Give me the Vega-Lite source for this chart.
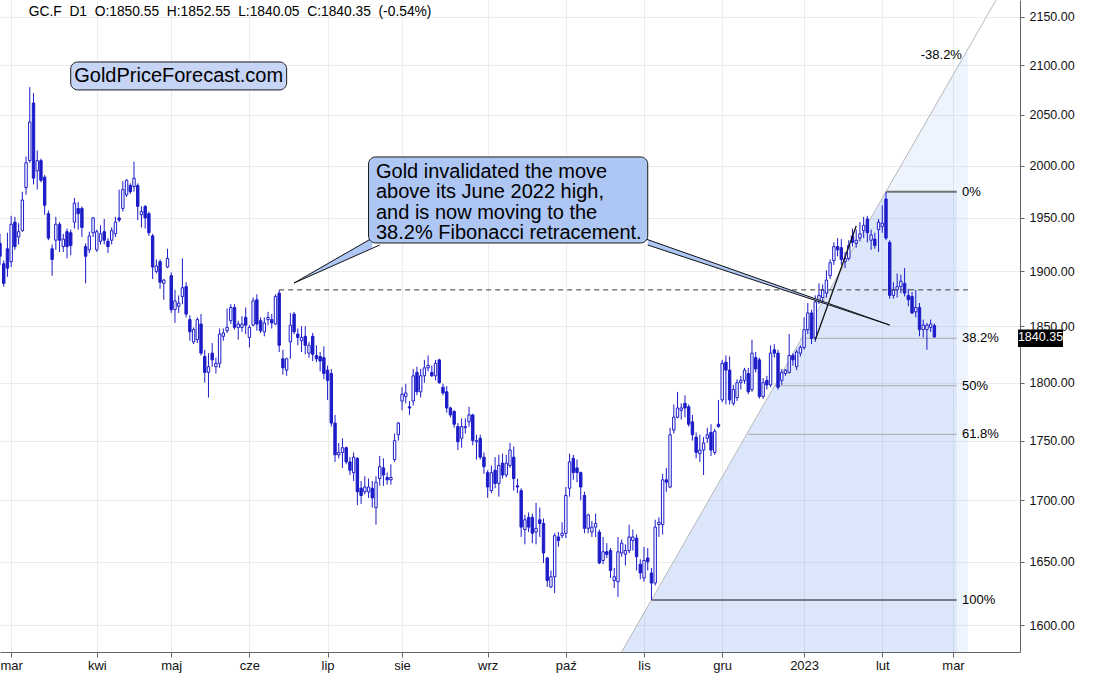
{
"$schema":"https://vega.github.io/schema/vega-lite/v6.json",
"width":1020,"height":652,
"autosize":{"type":"none"},
"padding":{"left":0,"top":0,"right":85,"bottom":30},
"background":"white",
"datasets":{
"candles":[
{"d":"2022-02-24","o":1926,"h":1935,"l":1906,"c":1914},
{"d":"2022-02-25","o":1907,"h":1910,"l":1886,"c":1889},
{"d":"2022-02-28","o":1921,"h":1936,"l":1895,"c":1903},
{"d":"2022-03-01","o":1909,"h":1952,"l":1904,"c":1944},
{"d":"2022-03-02","o":1946,"h":1951,"l":1920,"c":1923},
{"d":"2022-03-03","o":1932,"h":1945,"l":1925,"c":1937},
{"d":"2022-03-04","o":1938,"h":1975,"l":1937,"c":1967},
{"d":"2022-03-07","o":1979,"h":2009,"l":1972,"c":2003},
{"d":"2022-03-08","o":2005,"h":2078,"l":2003,"c":2043},
{"d":"2022-03-09","o":2062,"h":2072,"l":1982,"c":1988},
{"d":"2022-03-10","o":1995,"h":2015,"l":1977,"c":2005},
{"d":"2022-03-11","o":2005,"h":2007,"l":1984,"c":1986},
{"d":"2022-03-14","o":1989,"h":1991,"l":1953,"c":1962},
{"d":"2022-03-15","o":1954,"h":1957,"l":1929,"c":1931},
{"d":"2022-03-16","o":1921,"h":1925,"l":1896,"c":1911},
{"d":"2022-03-17","o":1929,"h":1951,"l":1920,"c":1944},
{"d":"2022-03-18","o":1944,"h":1946,"l":1918,"c":1929},
{"d":"2022-03-21","o":1923,"h":1935,"l":1918,"c":1930},
{"d":"2022-03-22","o":1937,"h":1940,"l":1912,"c":1923},
{"d":"2022-03-23","o":1936,"h":1939,"l":1915,"c":1924},
{"d":"2022-03-24","o":1946,"h":1969,"l":1940,"c":1964},
{"d":"2022-03-25","o":1959,"h":1965,"l":1939,"c":1954},
{"d":"2022-03-28","o":1959,"h":1961,"l":1932,"c":1941},
{"d":"2022-03-29","o":1923,"h":1926,"l":1889,"c":1914},
{"d":"2022-03-30","o":1920,"h":1937,"l":1917,"c":1933},
{"d":"2022-03-31","o":1936,"h":1951,"l":1932,"c":1950},
{"d":"2022-04-01","o":1920,"h":1939,"l":1918,"c":1937},
{"d":"2022-04-04","o":1928,"h":1943,"l":1925,"c":1935},
{"d":"2022-04-05","o":1937,"h":1949,"l":1925,"c":1929},
{"d":"2022-04-06","o":1928,"h":1931,"l":1917,"c":1923},
{"d":"2022-04-07","o":1929,"h":1941,"l":1925,"c":1938},
{"d":"2022-04-08","o":1935,"h":1951,"l":1932,"c":1946},
{"d":"2022-04-11","o":1950,"h":1977,"l":1946,"c":1948},
{"d":"2022-04-12","o":1959,"h":1985,"l":1956,"c":1977},
{"d":"2022-04-13","o":1972,"h":1987,"l":1970,"c":1986},
{"d":"2022-04-14","o":1981,"h":1983,"l":1973,"c":1975},
{"d":"2022-04-18","o":1980,"h":2004,"l":1975,"c":1988},
{"d":"2022-04-19","o":1981,"h":1983,"l":1948,"c":1961},
{"d":"2022-04-20","o":1953,"h":1961,"l":1941,"c":1956},
{"d":"2022-04-21","o":1961,"h":1962,"l":1940,"c":1950},
{"d":"2022-04-22","o":1954,"h":1956,"l":1933,"c":1936},
{"d":"2022-04-25","o":1933,"h":1935,"l":1893,"c":1904},
{"d":"2022-04-26","o":1900,"h":1911,"l":1898,"c":1905},
{"d":"2022-04-27","o":1909,"h":1911,"l":1884,"c":1890},
{"d":"2022-04-28","o":1889,"h":1893,"l":1874,"c":1892},
{"d":"2022-04-29","o":1904,"h":1921,"l":1903,"c":1912},
{"d":"2022-05-02","o":1896,"h":1899,"l":1862,"c":1865},
{"d":"2022-05-03","o":1865,"h":1883,"l":1853,"c":1873},
{"d":"2022-05-04","o":1868,"h":1878,"l":1862,"c":1871},
{"d":"2022-05-05","o":1877,"h":1912,"l":1870,"c":1885},
{"d":"2022-05-06","o":1886,"h":1890,"l":1858,"c":1861},
{"d":"2022-05-09","o":1856,"h":1860,"l":1837,"c":1845},
{"d":"2022-05-10","o":1836,"h":1849,"l":1834,"c":1847},
{"d":"2022-05-11","o":1838,"h":1858,"l":1835,"c":1856},
{"d":"2022-05-12","o":1852,"h":1861,"l":1824,"c":1826},
{"d":"2022-05-13","o":1823,"h":1829,"l":1800,"c":1809},
{"d":"2022-05-16","o":1809,"h":1826,"l":1787,"c":1814},
{"d":"2022-05-17","o":1826,"h":1835,"l":1814,"c":1820},
{"d":"2022-05-18","o":1814,"h":1822,"l":1808,"c":1817},
{"d":"2022-05-19","o":1817,"h":1848,"l":1813,"c":1843},
{"d":"2022-05-20","o":1841,"h":1848,"l":1837,"c":1844},
{"d":"2022-05-23","o":1846,"h":1866,"l":1844,"c":1849},
{"d":"2022-05-24","o":1855,"h":1870,"l":1852,"c":1867},
{"d":"2022-05-25","o":1867,"h":1870,"l":1847,"c":1849},
{"d":"2022-05-26","o":1849,"h":1855,"l":1838,"c":1852},
{"d":"2022-05-27","o":1849,"h":1859,"l":1845,"c":1852},
{"d":"2022-05-31","o":1858,"h":1867,"l":1843,"c":1851},
{"d":"2022-06-01","o":1840,"h":1851,"l":1831,"c":1849},
{"d":"2022-06-02","o":1851,"h":1876,"l":1850,"c":1873},
{"d":"2022-06-03","o":1874,"h":1879,"l":1846,"c":1852},
{"d":"2022-06-06","o":1855,"h":1858,"l":1844,"c":1846},
{"d":"2022-06-07","o":1845,"h":1858,"l":1841,"c":1853},
{"d":"2022-06-08","o":1856,"h":1863,"l":1851,"c":1858},
{"d":"2022-06-09","o":1856,"h":1861,"l":1848,"c":1853},
{"d":"2022-06-10","o":1852,"h":1879,"l":1851,"c":1877},
{"d":"2022-06-13","o":1880,"h":1883,"l":1827,"c":1833},
{"d":"2022-06-14","o":1821,"h":1829,"l":1807,"c":1813},
{"d":"2022-06-15","o":1811,"h":1822,"l":1806,"c":1821},
{"d":"2022-06-16","o":1836,"h":1862,"l":1821,"c":1851},
{"d":"2022-06-17","o":1861,"h":1863,"l":1843,"c":1845},
{"d":"2022-06-21","o":1843,"h":1848,"l":1833,"c":1840},
{"d":"2022-06-22","o":1837,"h":1850,"l":1827,"c":1840},
{"d":"2022-06-23","o":1841,"h":1850,"l":1825,"c":1833},
{"d":"2022-06-24","o":1826,"h":1836,"l":1822,"c":1833},
{"d":"2022-06-27","o":1841,"h":1844,"l":1819,"c":1825},
{"d":"2022-06-28","o":1824,"h":1833,"l":1818,"c":1821},
{"d":"2022-06-29","o":1823,"h":1827,"l":1810,"c":1819},
{"d":"2022-06-30","o":1822,"h":1832,"l":1803,"c":1808},
{"d":"2022-07-01","o":1811,"h":1815,"l":1785,"c":1802},
{"d":"2022-07-05","o":1808,"h":1812,"l":1762,"c":1765},
{"d":"2022-07-06","o":1765,"h":1772,"l":1732,"c":1738},
{"d":"2022-07-07","o":1738,"h":1748,"l":1735,"c":1740},
{"d":"2022-07-08","o":1740,"h":1752,"l":1727,"c":1744},
{"d":"2022-07-11","o":1744,"h":1745,"l":1730,"c":1732},
{"d":"2022-07-12","o":1732,"h":1736,"l":1721,"c":1725},
{"d":"2022-07-13","o":1723,"h":1740,"l":1716,"c":1736},
{"d":"2022-07-14","o":1735,"h":1736,"l":1696,"c":1707},
{"d":"2022-07-15","o":1710,"h":1716,"l":1697,"c":1704},
{"d":"2022-07-18","o":1707,"h":1720,"l":1705,"c":1711},
{"d":"2022-07-19","o":1707,"h":1718,"l":1702,"c":1711},
{"d":"2022-07-20","o":1710,"h":1716,"l":1694,"c":1702},
{"d":"2022-07-21","o":1694,"h":1720,"l":1680,"c":1715},
{"d":"2022-07-22","o":1718,"h":1737,"l":1712,"c":1728},
{"d":"2022-07-25","o":1727,"h":1735,"l":1712,"c":1721},
{"d":"2022-07-26","o":1719,"h":1723,"l":1713,"c":1717},
{"d":"2022-07-27","o":1717,"h":1730,"l":1713,"c":1719},
{"d":"2022-07-28","o":1734,"h":1756,"l":1732,"c":1750},
{"d":"2022-07-29","o":1755,"h":1766,"l":1750,"c":1765},
{"d":"2022-08-01","o":1784,"h":1796,"l":1776,"c":1790},
{"d":"2022-08-02","o":1788,"h":1799,"l":1782,"c":1791},
{"d":"2022-08-03","o":1779,"h":1784,"l":1772,"c":1778},
{"d":"2022-08-04","o":1784,"h":1812,"l":1780,"c":1806},
{"d":"2022-08-05","o":1809,"h":1814,"l":1789,"c":1792},
{"d":"2022-08-08","o":1792,"h":1812,"l":1787,"c":1806},
{"d":"2022-08-09","o":1806,"h":1820,"l":1800,"c":1813},
{"d":"2022-08-10","o":1813,"h":1824,"l":1810,"c":1815},
{"d":"2022-08-11","o":1809,"h":1815,"l":1805,"c":1806},
{"d":"2022-08-12","o":1806,"h":1820,"l":1802,"c":1817},
{"d":"2022-08-15","o":1820,"h":1821,"l":1799,"c":1800},
{"d":"2022-08-16","o":1796,"h":1799,"l":1789,"c":1791},
{"d":"2022-08-17","o":1792,"h":1797,"l":1774,"c":1778},
{"d":"2022-08-18","o":1778,"h":1779,"l":1770,"c":1772},
{"d":"2022-08-19","o":1775,"h":1776,"l":1761,"c":1764},
{"d":"2022-08-22","o":1762,"h":1765,"l":1742,"c":1749},
{"d":"2022-08-23","o":1752,"h":1769,"l":1744,"c":1762},
{"d":"2022-08-24","o":1761,"h":1769,"l":1756,"c":1762},
{"d":"2022-08-25","o":1766,"h":1779,"l":1762,"c":1772},
{"d":"2022-08-26","o":1772,"h":1773,"l":1746,"c":1750},
{"d":"2022-08-29","o":1749,"h":1755,"l":1734,"c":1750},
{"d":"2022-08-30","o":1752,"h":1755,"l":1734,"c":1736},
{"d":"2022-08-31","o":1736,"h":1740,"l":1722,"c":1728},
{"d":"2022-09-01","o":1723,"h":1725,"l":1702,"c":1711},
{"d":"2022-09-02","o":1708,"h":1729,"l":1706,"c":1723},
{"d":"2022-09-06","o":1725,"h":1736,"l":1710,"c":1714},
{"d":"2022-09-07","o":1714,"h":1738,"l":1703,"c":1729},
{"d":"2022-09-08","o":1731,"h":1739,"l":1718,"c":1721},
{"d":"2022-09-09","o":1721,"h":1738,"l":1719,"c":1731},
{"d":"2022-09-12","o":1729,"h":1748,"l":1727,"c":1742},
{"d":"2022-09-13","o":1736,"h":1745,"l":1708,"c":1718},
{"d":"2022-09-14","o":1712,"h":1718,"l":1706,"c":1711},
{"d":"2022-09-15","o":1708,"h":1710,"l":1670,"c":1678},
{"d":"2022-09-16","o":1676,"h":1688,"l":1664,"c":1684},
{"d":"2022-09-19","o":1686,"h":1690,"l":1674,"c":1678},
{"d":"2022-09-20","o":1686,"h":1689,"l":1665,"c":1673},
{"d":"2022-09-21","o":1674,"h":1698,"l":1664,"c":1677},
{"d":"2022-09-22","o":1684,"h":1694,"l":1670,"c":1681},
{"d":"2022-09-23","o":1681,"h":1685,"l":1649,"c":1657},
{"d":"2022-09-26","o":1653,"h":1654,"l":1630,"c":1635},
{"d":"2022-09-27","o":1630,"h":1643,"l":1629,"c":1638},
{"d":"2022-09-28","o":1638,"h":1673,"l":1625,"c":1671},
{"d":"2022-09-29","o":1670,"h":1674,"l":1662,"c":1667},
{"d":"2022-09-30","o":1671,"h":1682,"l":1669,"c":1673},
{"d":"2022-10-03","o":1673,"h":1711,"l":1669,"c":1704},
{"d":"2022-10-04","o":1710,"h":1739,"l":1703,"c":1732},
{"d":"2022-10-05","o":1735,"h":1738,"l":1717,"c":1723},
{"d":"2022-10-06","o":1727,"h":1734,"l":1715,"c":1723},
{"d":"2022-10-07","o":1723,"h":1724,"l":1700,"c":1711},
{"d":"2022-10-10","o":1704,"h":1707,"l":1673,"c":1677},
{"d":"2022-10-11","o":1677,"h":1689,"l":1673,"c":1688},
{"d":"2022-10-12","o":1674,"h":1683,"l":1670,"c":1678},
{"d":"2022-10-13","o":1678,"h":1689,"l":1670,"c":1681},
{"d":"2022-10-14","o":1674,"h":1676,"l":1648,"c":1649},
{"d":"2022-10-17","o":1651,"h":1670,"l":1648,"c":1658},
{"d":"2022-10-18","o":1658,"h":1665,"l":1653,"c":1656},
{"d":"2022-10-19","o":1659,"h":1661,"l":1637,"c":1643},
{"d":"2022-10-20","o":1635,"h":1645,"l":1629,"c":1638},
{"d":"2022-10-21","o":1634,"h":1670,"l":1622,"c":1658},
{"d":"2022-10-24","o":1657,"h":1668,"l":1654,"c":1665},
{"d":"2022-10-25","o":1656,"h":1664,"l":1647,"c":1659},
{"d":"2022-10-26","o":1659,"h":1680,"l":1657,"c":1670},
{"d":"2022-10-27","o":1667,"h":1676,"l":1659,"c":1670},
{"d":"2022-10-28","o":1669,"h":1672,"l":1643,"c":1654},
{"d":"2022-10-31","o":1648,"h":1652,"l":1636,"c":1641},
{"d":"2022-11-01","o":1637,"h":1662,"l":1634,"c":1651},
{"d":"2022-11-02","o":1653,"h":1661,"l":1643,"c":1650},
{"d":"2022-11-03","o":1641,"h":1645,"l":1619.6,"c":1633},
{"d":"2022-11-04","o":1633,"h":1684,"l":1631,"c":1678},
{"d":"2022-11-07","o":1680,"h":1686,"l":1670,"c":1682},
{"d":"2022-11-08","o":1680,"h":1722,"l":1672,"c":1717},
{"d":"2022-11-09","o":1717,"h":1727,"l":1707,"c":1715},
{"d":"2022-11-10","o":1711,"h":1761,"l":1710,"c":1755},
{"d":"2022-11-11","o":1759,"h":1781,"l":1756,"c":1770},
{"d":"2022-11-14","o":1770,"h":1792,"l":1769,"c":1778},
{"d":"2022-11-15","o":1776,"h":1782,"l":1768,"c":1778},
{"d":"2022-11-16","o":1782,"h":1789,"l":1770,"c":1778},
{"d":"2022-11-17","o":1779,"h":1781,"l":1762,"c":1764},
{"d":"2022-11-18","o":1766,"h":1772,"l":1750,"c":1755},
{"d":"2022-11-21","o":1753,"h":1757,"l":1735,"c":1740},
{"d":"2022-11-22","o":1739,"h":1755,"l":1732,"c":1742},
{"d":"2022-11-23","o":1742,"h":1753,"l":1721,"c":1748},
{"d":"2022-11-25","o":1752,"h":1761,"l":1748,"c":1755},
{"d":"2022-11-28","o":1757,"h":1764,"l":1737,"c":1742},
{"d":"2022-11-29","o":1740,"h":1760,"l":1738,"c":1758},
{"d":"2022-11-30","o":1764,"h":1785,"l":1761,"c":1762},
{"d":"2022-12-01","o":1785,"h":1820,"l":1783,"c":1817},
{"d":"2022-12-02","o":1818,"h":1824,"l":1781,"c":1811},
{"d":"2022-12-05","o":1811,"h":1823,"l":1781,"c":1785},
{"d":"2022-12-06","o":1782,"h":1798,"l":1780,"c":1794},
{"d":"2022-12-07","o":1787,"h":1803,"l":1784,"c":1800},
{"d":"2022-12-08","o":1800,"h":1806,"l":1794,"c":1802},
{"d":"2022-12-09","o":1802,"h":1813,"l":1799,"c":1811},
{"d":"2022-12-12","o":1808,"h":1813,"l":1790,"c":1792},
{"d":"2022-12-13","o":1794,"h":1838,"l":1792,"c":1826},
{"d":"2022-12-14","o":1822,"h":1827,"l":1809,"c":1812},
{"d":"2022-12-15","o":1820,"h":1822,"l":1786,"c":1788},
{"d":"2022-12-16","o":1788,"h":1804,"l":1786,"c":1800},
{"d":"2022-12-19","o":1802,"h":1806,"l":1794,"c":1798},
{"d":"2022-12-20","o":1798,"h":1833,"l":1796,"c":1826},
{"d":"2022-12-21","o":1829,"h":1834,"l":1822,"c":1826},
{"d":"2022-12-22","o":1826,"h":1829,"l":1794,"c":1796},
{"d":"2022-12-23","o":1802,"h":1812,"l":1798,"c":1809},
{"d":"2022-12-26","o":1808,"h":1812,"l":1806,"c":1811},
{"d":"2022-12-27","o":1809,"h":1843,"l":1808,"c":1824},
{"d":"2022-12-28","o":1824,"h":1826,"l":1815,"c":1820},
{"d":"2022-12-29","o":1814,"h":1829,"l":1811,"c":1827},
{"d":"2022-12-30","o":1826,"h":1833,"l":1823,"c":1831},
{"d":"2023-01-03","o":1831,"h":1858,"l":1829,"c":1847},
{"d":"2023-01-04","o":1847,"h":1871,"l":1843,"c":1862},
{"d":"2023-01-05","o":1862,"h":1865,"l":1834,"c":1839},
{"d":"2023-01-06","o":1840,"h":1878,"l":1836,"c":1872},
{"d":"2023-01-09","o":1872,"h":1889,"l":1870,"c":1878},
{"d":"2023-01-10","o":1876,"h":1888,"l":1871,"c":1883},
{"d":"2023-01-11","o":1880,"h":1901,"l":1876,"c":1892},
{"d":"2023-01-12","o":1896,"h":1911,"l":1893,"c":1908},
{"d":"2023-01-13","o":1910,"h":1927,"l":1906,"c":1923},
{"d":"2023-01-16","o":1923,"h":1931,"l":1914,"c":1920},
{"d":"2023-01-17","o":1922,"h":1930,"l":1906,"c":1911},
{"d":"2023-01-18","o":1909,"h":1918,"l":1903,"c":1912},
{"d":"2023-01-19","o":1912,"h":1929,"l":1910,"c":1924},
{"d":"2023-01-20","o":1933,"h":1940,"l":1923,"c":1927},
{"d":"2023-01-23","o":1926,"h":1939,"l":1922,"c":1929},
{"d":"2023-01-24","o":1931,"h":1946,"l":1928,"c":1935},
{"d":"2023-01-25","o":1938,"h":1951,"l":1931,"c":1943},
{"d":"2023-01-26","o":1949,"h":1952,"l":1927,"c":1936},
{"d":"2023-01-27","o":1929,"h":1939,"l":1920,"c":1934},
{"d":"2023-01-30","o":1930,"h":1936,"l":1921,"c":1924},
{"d":"2023-01-31","o":1939,"h":1949,"l":1918,"c":1946},
{"d":"2023-02-01","o":1942,"h":1962,"l":1936,"c":1945},
{"d":"2023-02-02","o":1968,"h":1975,"l":1929,"c":1931},
{"d":"2023-02-03","o":1927,"h":1929,"l":1875,"c":1878},
{"d":"2023-02-06","o":1878,"h":1890,"l":1875,"c":1883},
{"d":"2023-02-07","o":1883,"h":1898,"l":1876,"c":1886},
{"d":"2023-02-08","o":1886,"h":1897,"l":1880,"c":1891},
{"d":"2023-02-09","o":1889,"h":1903,"l":1877,"c":1880},
{"d":"2023-02-10","o":1878,"h":1884,"l":1868,"c":1874},
{"d":"2023-02-13","o":1877,"h":1881,"l":1861,"c":1862},
{"d":"2023-02-14","o":1863,"h":1883,"l":1858,"c":1867},
{"d":"2023-02-15","o":1867,"h":1871,"l":1841,"c":1847},
{"d":"2023-02-16","o":1847,"h":1856,"l":1840,"c":1851},
{"d":"2023-02-17","o":1847,"h":1853,"l":1829,"c":1851},
{"d":"2023-02-21","o":1849,"h":1856,"l":1845,"c":1852},
{"d":"2023-02-22","o":1850.55,"h":1852.55,"l":1840.05,"c":1840.35}
]
},
"encoding":{
"x":{"field":"d","type":"ordinal",
"scale":{"type":"point","padding":0,"domain":["2022-02-24","2022-02-25","2022-02-28","2022-03-01","2022-03-02","2022-03-03","2022-03-04","2022-03-07","2022-03-08","2022-03-09","2022-03-10","2022-03-11","2022-03-14","2022-03-15","2022-03-16","2022-03-17","2022-03-18","2022-03-21","2022-03-22","2022-03-23","2022-03-24","2022-03-25","2022-03-28","2022-03-29","2022-03-30","2022-03-31","2022-04-01","2022-04-04","2022-04-05","2022-04-06","2022-04-07","2022-04-08","2022-04-11","2022-04-12","2022-04-13","2022-04-14","2022-04-18","2022-04-19","2022-04-20","2022-04-21","2022-04-22","2022-04-25","2022-04-26","2022-04-27","2022-04-28","2022-04-29","2022-05-02","2022-05-03","2022-05-04","2022-05-05","2022-05-06","2022-05-09","2022-05-10","2022-05-11","2022-05-12","2022-05-13","2022-05-16","2022-05-17","2022-05-18","2022-05-19","2022-05-20","2022-05-23","2022-05-24","2022-05-25","2022-05-26","2022-05-27","2022-05-31","2022-06-01","2022-06-02","2022-06-03","2022-06-06","2022-06-07","2022-06-08","2022-06-09","2022-06-10","2022-06-13","2022-06-14","2022-06-15","2022-06-16","2022-06-17","2022-06-21","2022-06-22","2022-06-23","2022-06-24","2022-06-27","2022-06-28","2022-06-29","2022-06-30","2022-07-01","2022-07-05","2022-07-06","2022-07-07","2022-07-08","2022-07-11","2022-07-12","2022-07-13","2022-07-14","2022-07-15","2022-07-18","2022-07-19","2022-07-20","2022-07-21","2022-07-22","2022-07-25","2022-07-26","2022-07-27","2022-07-28","2022-07-29","2022-08-01","2022-08-02","2022-08-03","2022-08-04","2022-08-05","2022-08-08","2022-08-09","2022-08-10","2022-08-11","2022-08-12","2022-08-15","2022-08-16","2022-08-17","2022-08-18","2022-08-19","2022-08-22","2022-08-23","2022-08-24","2022-08-25","2022-08-26","2022-08-29","2022-08-30","2022-08-31","2022-09-01","2022-09-02","2022-09-06","2022-09-07","2022-09-08","2022-09-09","2022-09-12","2022-09-13","2022-09-14","2022-09-15","2022-09-16","2022-09-19","2022-09-20","2022-09-21","2022-09-22","2022-09-23","2022-09-26","2022-09-27","2022-09-28","2022-09-29","2022-09-30","2022-10-03","2022-10-04","2022-10-05","2022-10-06","2022-10-07","2022-10-10","2022-10-11","2022-10-12","2022-10-13","2022-10-14","2022-10-17","2022-10-18","2022-10-19","2022-10-20","2022-10-21","2022-10-24","2022-10-25","2022-10-26","2022-10-27","2022-10-28","2022-10-31","2022-11-01","2022-11-02","2022-11-03","2022-11-04","2022-11-07","2022-11-08","2022-11-09","2022-11-10","2022-11-11","2022-11-14","2022-11-15","2022-11-16","2022-11-17","2022-11-18","2022-11-21","2022-11-22","2022-11-23","2022-11-25","2022-11-28","2022-11-29","2022-11-30","2022-12-01","2022-12-02","2022-12-05","2022-12-06","2022-12-07","2022-12-08","2022-12-09","2022-12-12","2022-12-13","2022-12-14","2022-12-15","2022-12-16","2022-12-19","2022-12-20","2022-12-21","2022-12-22","2022-12-23","2022-12-26","2022-12-27","2022-12-28","2022-12-29","2022-12-30","2023-01-03","2023-01-04","2023-01-05","2023-01-06","2023-01-09","2023-01-10","2023-01-11","2023-01-12","2023-01-13","2023-01-16","2023-01-17","2023-01-18","2023-01-19","2023-01-20","2023-01-23","2023-01-24","2023-01-25","2023-01-26","2023-01-27","2023-01-30","2023-01-31","2023-02-01","2023-02-02","2023-02-03","2023-02-06","2023-02-07","2023-02-08","2023-02-09","2023-02-10","2023-02-13","2023-02-14","2023-02-15","2023-02-16","2023-02-17","2023-02-21","2023-02-22","2023-02-23","2023-02-24","2023-02-27","2023-02-28","2023-03-01","2023-03-02","2023-03-03","2023-03-06","2023-03-07","2023-03-08","2023-03-09","2023-03-10","2023-03-13","2023-03-14","2023-03-15","2023-03-16","2023-03-17","2023-03-20","2023-03-21","2023-03-22","2023-03-23","2023-03-24","2023-03-27"]},
"axis":{"title":null,"values":["2022-03-01","2022-04-01","2022-05-02","2022-06-01","2022-07-01","2022-08-01","2022-09-01","2022-10-03","2022-11-01","2022-12-01","2023-01-03","2023-02-01","2023-03-01"],
"labelExpr":"slice(datum.value,5,7)=='01' ? slice(datum.value,0,4) : ['sty','lut','mar','kwi','maj','cze','lip','sie','wrz','paź','lis','gru'][toNumber(slice(datum.value,5,7))-1]",
"labelAngle":0,"labelOverlap":false,"grid":true}
}
},
"layer":[
{"data":{"values":[{"d":"2022-10-24","p":1579.3},{"d":"2023-03-07","p":2116.8}]},
 "mark":{"type":"area","fill":"#5b8ff0","fillOpacity":0.1,"clip":true},
 "encoding":{"y":{"field":"p","type":"quantitative","scale":{"type":"log","domain":[1579.2,2167.8],"nice":false,"zero":false},"axis":{"orient":"right","title":null,"format":".2f","values":[1600,1650,1700,1750,1800,1850,1900,1950,2000,2050,2100,2150]}},"y2":{"datum":1579.2}}},
{"data":{"values":[{"d":"2022-10-24","p":1579.3},{"d":"2023-02-02","p":1975},{"d":"2023-03-02","p":1975}]},
 "mark":{"type":"area","fill":"#5b8ff0","fillOpacity":0.12,"clip":true},
 "encoding":{"y":{"field":"p","type":"quantitative"},"y2":{"datum":1579.2}}},
{"data":{"values":[{"lvl":"0%","d":"2023-02-02","d2":"2023-03-02","p":1975},{"lvl":"38.2%","d":"2022-12-30","d2":"2023-03-02","p":1839.24},{"lvl":"50%","d":"2022-12-21","d2":"2023-03-02","p":1797.3},{"lvl":"61.8%","d":"2022-12-12","d2":"2023-03-02","p":1755.36},{"lvl":"100%","d":"2022-11-03","d2":"2023-03-02","p":1619.6}]},
 "mark":{"type":"rule"},
 "encoding":{"x2":{"field":"d2"},"y":{"field":"p","type":"quantitative"},
  "color":{"condition":[{"test":"datum.lvl=='0%'","value":"#707070"},{"test":"datum.lvl=='100%'","value":"#111111"}],"value":"#a8a8a8"},
  "strokeWidth":{"condition":{"test":"datum.lvl=='0%'","value":2},"value":1}}},
{"data":{"values":[{"d":"2022-10-24","p":1579.3},{"d":"2023-03-17","p":2170.7}]},
 "mark":{"type":"line","color":"#b8b8b8","strokeWidth":1,"clip":true},
 "encoding":{"y":{"field":"p","type":"quantitative"}}},
{"data":{"name":"candles"},
 "mark":{"type":"rule","color":"#1c1cc8","strokeWidth":1,"clip":true},
 "encoding":{"y":{"field":"l","type":"quantitative"},"y2":{"field":"h"}}},
{"data":{"name":"candles"},
 "mark":{"type":"bar","width":2.4,"stroke":"#1c1cc8","strokeWidth":1,"clip":true},
 "encoding":{"y":{"field":"o","type":"quantitative"},"y2":{"field":"c"},
  "fill":{"condition":{"test":"datum.c >= datum.o","value":"#ffffff"},"value":"#1c1cc8"}}},
{"data":{"values":[{"d":"2022-06-13","d2":"2023-03-07","p":1883}]},
 "mark":{"type":"rule","color":"#3a3a3a","strokeDash":[5,4],"strokeWidth":1},
 "encoding":{"x2":{"field":"d2"},"y":{"field":"p","type":"quantitative"}}},
{"data":{"values":[{"d":"2023-01-06","p":1837.7},{"d":"2023-01-23","p":1942.3}]},
 "mark":{"type":"line","color":"#111111","strokeWidth":1.3},
 "encoding":{"y":{"field":"p","type":"quantitative"}}},
{"data":{"values":[{"g":"a","d":"2022-06-17","p":1889.3,"p2":1889.3},{"g":"a","d":"2022-07-20","p":1931.0,"p2":1921.4},{"g":"b","d":"2022-11-02","p":1929.5,"p2":1924.5},{"g":"b","d":"2023-02-03","p":1851.1,"p2":1851.1}]},
 "mark":{"type":"area","fill":"#aec6f4"},
 "encoding":{"y":{"field":"p","type":"quantitative"},"y2":{"field":"p2"},"detail":{"field":"g"}}},
{"data":{"values":[{"g":"a1","d":"2022-06-17","p":1889.3},{"g":"a1","d":"2022-07-20","p":1931.0},{"g":"a2","d":"2022-06-17","p":1889.3},{"g":"a2","d":"2022-07-22","p":1924.5},{"g":"b1","d":"2022-10-31","p":1932.0},{"g":"b1","d":"2023-02-03","p":1851.1},{"g":"b2","d":"2022-11-02","p":1924.5},{"g":"b2","d":"2023-02-03","p":1851.1}]},
 "mark":{"type":"line","color":"#111111","strokeWidth":1},
 "encoding":{"y":{"field":"p","type":"quantitative"},"detail":{"field":"g"}}},
{"data":{"values":[{"name":"note","d":"2022-07-19","d2":"2022-11-02","p":2008.6,"p2":1926.4},{"name":"logo","d":"2022-03-23","d2":"2022-06-15","p":2103.5,"p2":2075.1}]},
 "mark":{"type":"rect","cornerRadius":7,"stroke":"#1a1a1a","strokeWidth":1},
 "encoding":{"x2":{"field":"d2"},"y":{"field":"p","type":"quantitative"},"y2":{"field":"p2"},
  "fill":{"condition":{"test":"datum.name=='logo'","value":"#c6d4f6"},"value":"#aec6f4"}}},
{"data":{"values":[{"d":"2022-07-21","p":2003.7,"t":"Gold invalidated the move\nabove its June 2022 high,\nand is now moving to the\n38.2% Fibonacci retracement."}]},
 "mark":{"type":"text","align":"left","baseline":"top","fontSize":20,"lineHeight":20.3,"lineBreak":"\n","color":"#000000"},
 "encoding":{"y":{"field":"p","type":"quantitative"},"text":{"field":"t"}}},
{"data":{"values":[{"d":"2022-05-04","p":2089.2,"t":"GoldPriceForecast.com"}]},
 "mark":{"type":"text","align":"center","baseline":"middle","fontSize":20,"color":"#000000"},
 "encoding":{"y":{"field":"p","type":"quantitative"},"text":{"field":"t"}}},
{"data":{"values":[{"d":"2022-03-08","p":2155.2,"t":"GC.F\u00a0\u00a0D1\u00a0\u00a0O:1850.55\u00a0\u00a0H:1852.55\u00a0\u00a0L:1840.05\u00a0\u00a0C:1840.35\u00a0\u00a0(-0.54%)"}]},
 "mark":{"type":"text","align":"left","baseline":"middle","fontSize":13.8,"dx":-1,"color":"#000000"},
 "encoding":{"y":{"field":"p","type":"quantitative"},"text":{"field":"t"}}},
{"data":{"values":[{"d":"2023-03-03","p":1975,"t":"0%"},{"d":"2023-03-03","p":1839.24,"t":"38.2%"},{"d":"2023-03-03","p":1797.3,"t":"50%"},{"d":"2023-03-03","p":1755.36,"t":"61.8%"},{"d":"2023-03-03","p":1619.6,"t":"100%"}]},
 "mark":{"type":"text","align":"left","baseline":"middle","fontSize":13,"dx":1.5,"color":"#000000"},
 "encoding":{"y":{"field":"p","type":"quantitative"},"text":{"field":"t"}}},
{"data":{"values":[{"d":"2023-03-03","p":2110.76,"t":"-38.2%"}]},
 "mark":{"type":"text","align":"right","baseline":"middle","fontSize":13,"dx":1.5,"color":"#000000"},
 "encoding":{"y":{"field":"p","type":"quantitative"},"text":{"field":"t"}}},
{"data":{"values":[{"d":"2023-03-27","p":1847.2,"p2":1831.4}]},
 "mark":{"type":"bar","width":45,"xOffset":20.5,"fill":"#000000"},
 "encoding":{"y":{"field":"p","type":"quantitative"},"y2":{"field":"p2"}}},
{"data":{"values":[{"d":"2023-03-27","p":1840.35,"t":"1840.35"}]},
 "mark":{"type":"text","align":"center","baseline":"middle","fontSize":12.5,"dx":20.5,"color":"#ffffff"},
 "encoding":{"y":{"field":"p","type":"quantitative"},"text":{"field":"t"}}}
],
"config":{
"font":"Liberation Sans",
"view":{"stroke":null},
"axis":{"gridColor":"#ececec","gridWidth":1,"domainColor":"#666666","tickColor":"#666666","labelColor":"#111111","labelFont":"Liberation Sans"},
"axisX":{"tickSize":5,"labelFontSize":13,"labelPadding":2},
"axisY":{"tickSize":4,"labelFontSize":12.5,"labelPadding":5,"grid":true}
}
}
